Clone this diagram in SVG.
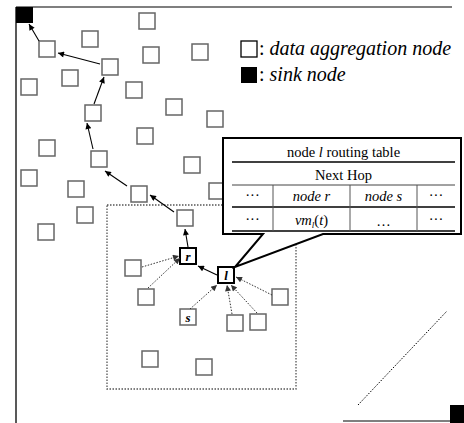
<svg xmlns="http://www.w3.org/2000/svg" width="464" height="423" viewBox="0 0 464 423">
<style>
.n{fill:#fff;stroke:#666;stroke-width:1.5}
.k{fill:#fff;stroke:#000;stroke-width:2}
.sol{stroke:#000;stroke-width:1.1;fill:none}
.dot{stroke:#333;stroke-width:1;stroke-dasharray:1.5 1.5;fill:none}
text{font-family:'Liberation Serif','Times New Roman',Times,'DejaVu Serif',serif;fill:#000}
.lg{font-size:20px}
.tb{font-size:14.5px}
.lab{font-size:13px;font-style:italic;font-weight:bold}
</style>
<defs>
<marker id="ah" viewBox="0 0 10 10" refX="10" refY="5" markerWidth="8" markerHeight="6" markerUnits="userSpaceOnUse" orient="auto">
<path d="M0,0 L10,5 L0,10 Z" fill="#000"/>
</marker>
<marker id="ad" viewBox="0 0 10 10" refX="10" refY="5" markerWidth="8" markerHeight="6" markerUnits="userSpaceOnUse" orient="auto">
<path d="M0,0 L10,5 L0,10 Z" fill="#333"/>
</marker>
</defs>
<rect width="464" height="423" fill="#fff"/>
<g id="frame">
<line x1="16" y1="7" x2="452" y2="7" stroke="#555" stroke-width="1.5"/>
<line x1="16" y1="7" x2="16" y2="423" stroke="#222" stroke-width="1.5"/>
<line x1="343" y1="421" x2="450" y2="421" stroke="#555" stroke-width="1.5"/>
<line x1="358" y1="405" x2="447" y2="311" stroke="#000" stroke-width="1" stroke-dasharray="1.5 1.5"/>
<rect x="107" y="205" width="189" height="184" fill="none" stroke="#555" stroke-width="1.3" stroke-dasharray="1.5 1.5"/>
</g>
<g id="sink1"><rect x="16" y="7" width="17" height="16" fill="#000"/></g>
<g id="sink2"><rect x="450" y="405" width="14" height="18" fill="#000"/></g>
<g id="nodes">
<rect id="n1" class="n" x="139" y="13" width="16" height="16"/>
<rect id="n2" class="n" x="82" y="31" width="16" height="16"/>
<rect id="n3" class="n" x="39" y="41" width="16" height="16"/>
<rect id="n4" class="n" x="143" y="47" width="16" height="16"/>
<rect id="n5" class="n" x="192" y="44" width="16" height="16"/>
<rect id="n6" class="n" x="102" y="59" width="16" height="16"/>
<rect id="n7" class="n" x="62" y="70" width="16" height="16"/>
<rect id="n8" class="n" x="21" y="79" width="16" height="16"/>
<rect id="n9" class="n" x="126" y="82" width="16" height="16"/>
<rect id="n10" class="n" x="85" y="105" width="16" height="16"/>
<rect id="n11" class="n" x="166" y="99" width="16" height="16"/>
<rect id="n12" class="n" x="207" y="111" width="16" height="16"/>
<rect id="n13" class="n" x="137" y="128" width="16" height="16"/>
<rect id="n14" class="n" x="39" y="140" width="16" height="16"/>
<rect id="n15" class="n" x="91" y="151" width="16" height="16"/>
<rect id="n16" class="n" x="184" y="157" width="16" height="16"/>
<rect id="n17" class="n" x="21" y="170" width="16" height="16"/>
<rect id="n18" class="n" x="68" y="181" width="16" height="16"/>
<rect id="n19" class="n" x="209" y="183" width="16" height="16"/>
<rect id="n20" class="n" x="131" y="186" width="16" height="16"/>
<rect id="n21" class="n" x="177" y="210" width="16" height="16"/>
<rect id="n22" class="n" x="77" y="207" width="16" height="16"/>
<rect id="n23" class="n" x="38" y="224" width="16" height="16"/>
<rect id="n25" class="n" x="125" y="260" width="16" height="16"/>
<rect id="n26" class="n" x="138" y="289" width="16" height="16"/>
<rect id="n29" class="n" x="272" y="289" width="16" height="16"/>
<rect id="n30" class="n" x="227" y="315" width="16" height="16"/>
<rect id="n31" class="n" x="250" y="314" width="16" height="16"/>
<rect id="n32" class="n" x="142" y="351" width="16" height="16"/>
<rect id="n33" class="n" x="196" y="359" width="16" height="16"/>
</g>
<g id="node-r"><rect class="k" x="180" y="248" width="16" height="16"/><text class="lab" x="188" y="261" text-anchor="middle">r</text></g>
<g id="node-l"><rect class="k" x="218" y="267" width="16" height="16"/><text class="lab" x="226" y="280" text-anchor="middle">l</text></g>
<g id="node-s"><rect class="n" x="180" y="309" width="16" height="16"/><text class="lab" x="188" y="322" text-anchor="middle">s</text></g>
<g id="connectors">
<line class="sol" x1="100" y1="64" x2="58" y2="53" marker-end="url(#ah)"/>
<line class="sol" x1="39" y1="41" x2="29" y2="24" marker-end="url(#ah)"/>
<line class="sol" x1="94" y1="104" x2="104" y2="77" marker-end="url(#ah)"/>
<line class="sol" x1="93" y1="149" x2="87" y2="123" marker-end="url(#ah)"/>
<line class="sol" x1="127" y1="186" x2="105" y2="171" marker-end="url(#ah)"/>
<line class="sol" x1="174" y1="212" x2="150" y2="195" marker-end="url(#ah)"/>
<line class="sol" x1="188" y1="247" x2="185" y2="229" marker-end="url(#ah)"/>
<line class="sol" x1="217" y1="275" x2="198" y2="266" marker-end="url(#ah)"/>
<line class="dot" x1="142" y1="267" x2="179" y2="256" marker-end="url(#ad)"/>
<line class="dot" x1="148" y1="288" x2="180" y2="258" marker-end="url(#ad)"/>
<line class="dot" x1="190" y1="309" x2="217" y2="285" marker-end="url(#ad)"/>
<line class="dot" x1="232" y1="314" x2="227" y2="285" marker-end="url(#ad)"/>
<line class="dot" x1="257" y1="313" x2="231" y2="285" marker-end="url(#ad)"/>
<line class="dot" x1="272" y1="295" x2="236" y2="277" marker-end="url(#ad)"/>
</g>
<g id="legend">
<rect x="241" y="41" width="16" height="16" fill="#fff" stroke="#000" stroke-width="1.3"/>
<text class="lg" x="259" y="55">: <tspan font-style="italic">data aggregation node</tspan></text>
<rect x="241" y="67" width="16" height="16" fill="#000"/>
<text class="lg" x="259" y="81">: <tspan font-style="italic">sink node</tspan></text>
</g>
<g id="routing-table">
<path d="M223,138 H461 V234 H323 L235,267 L263,234 H223 Z" fill="#fff" stroke="#000" stroke-width="2" stroke-linejoin="miter"/>
<text class="tb" x="343.5" y="157" text-anchor="middle">node <tspan font-style="italic">l</tspan> routing table</text>
<line x1="232" y1="162" x2="455" y2="162" stroke="#000" stroke-width="1.6"/>
<text class="tb" x="343.5" y="180" text-anchor="middle">Next Hop</text>
<line x1="232" y1="185" x2="455" y2="185" stroke="#444" stroke-width="1"/>
<line x1="232" y1="207" x2="455" y2="207" stroke="#000" stroke-width="1.4"/>
<line x1="232" y1="231" x2="455" y2="231" stroke="#000" stroke-width="1.6"/>
<line x1="273" y1="185" x2="273" y2="231" stroke="#555" stroke-width="1"/>
<line x1="350" y1="185" x2="350" y2="231" stroke="#555" stroke-width="1"/>
<line x1="417" y1="185" x2="417" y2="231" stroke="#555" stroke-width="1"/>
<text class="tb" x="252.5" y="200" text-anchor="middle">···</text>
<text class="tb" x="311.5" y="201" text-anchor="middle" font-style="italic">node r</text>
<text class="tb" x="383.5" y="201" text-anchor="middle" font-style="italic">node s</text>
<text class="tb" x="436" y="200" text-anchor="middle">···</text>
<text class="tb" x="252.5" y="224" text-anchor="middle">···</text>
<text class="tb" x="311.5" y="225" text-anchor="middle"><tspan font-style="italic">vm</tspan><tspan font-style="italic" font-size="9" dy="3">l</tspan><tspan dy="-3">(</tspan><tspan font-style="italic">t</tspan>)</text>
<text class="tb" x="383.5" y="226" text-anchor="middle">…</text>
<text class="tb" x="436" y="224" text-anchor="middle">···</text>
</g>
</svg>
